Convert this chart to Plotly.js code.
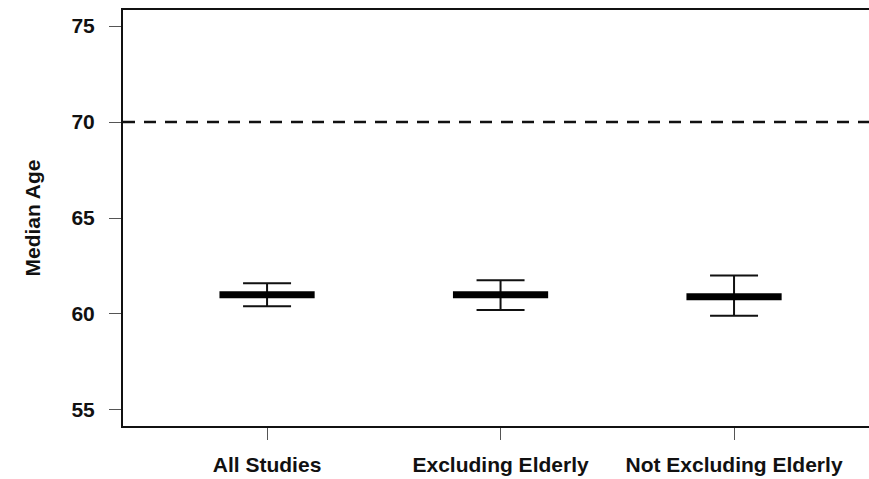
<!DOCTYPE html>
<html>
<head>
<meta charset="utf-8">
<script src="https://cdn.plot.ly/plotly-3.0.1.min.js"></script>
<style>html,body{margin:0;padding:0;background:#fff;}#chart{width:869px;height:479px;}</style>
</head>
<body>
<div id="chart"></div>
<script>
const categories = ["All Studies", "Excluding Elderly", "Not Excluding Elderly"];
const medianAge = [61.0, 61.0, 60.9];
const upperCI = [61.6, 61.75, 62.0];
const lowerCI = [60.4, 60.2, 59.9];
const referenceAge = 70;
const yTicks = [55, 60, 65, 70, 75];

const errPlus = medianAge.map((m, i) => upperCI[i] - m);
const errMinus = medianAge.map((m, i) => m - lowerCI[i]);

const fam = "Liberation Sans, Arial, sans-serif";

const traces = [{
  type: "scatter",
  mode: "markers",
  x: categories,
  y: medianAge,
  marker: {symbol: "line-ew", size: 68, color: "#000", line: {width: 7, color: "#000"}},
  error_y: {type: "data", symmetric: false, array: errPlus, arrayminus: errMinus,
            width: 24, thickness: 2, color: "#111"},
  showlegend: false,
  hoverinfo: "skip"
}];

const layout = {
  width: 869, height: 479,
  margin: {l: 123, r: 0, t: 10, b: 53},
  paper_bgcolor: "#fff", plot_bgcolor: "#fff",
  font: {family: fam, size: 18, color: "#111"},
  showlegend: false,
  xaxis: {
    type: "category",
    categoryorder: "array", categoryarray: categories,
    range: [-0.617, 2.578],
    showgrid: false, zeroline: false,
    showline: true, linecolor: "#111", linewidth: 2, mirror: true,
    ticks: "outside", ticklen: 12, tickwidth: 1, tickcolor: "#555",
    ticklabelstandoff: 7,
    tickfont: {family: fam, size: 21, color: "#111", weight: "bold"}
  },
  yaxis: {
    range: [54.16, 75.84],
    tickvals: yTicks,
    showgrid: false, zeroline: false,
    showline: true, linecolor: "#111", linewidth: 2, mirror: false,
    ticks: "outside", ticklen: 12, tickwidth: 1, tickcolor: "#555",
    ticklabelstandoff: 10,
    tickfont: {family: fam, size: 21, color: "#111", weight: "bold"},
    title: {text: "Median Age", standoff: 25,
            font: {family: fam, size: 21, color: "#111", weight: "bold"}}
  },
  shapes: [{
    type: "line", xref: "paper", yref: "y",
    x0: 0, x1: 1, y0: referenceAge, y1: referenceAge,
    line: {color: "#111", width: 2.5, dash: "12px,9px"}
  }]
};

Plotly.newPlot("chart", traces, layout, {displayModeBar: false, staticPlot: true});
</script>
</body>
</html>
